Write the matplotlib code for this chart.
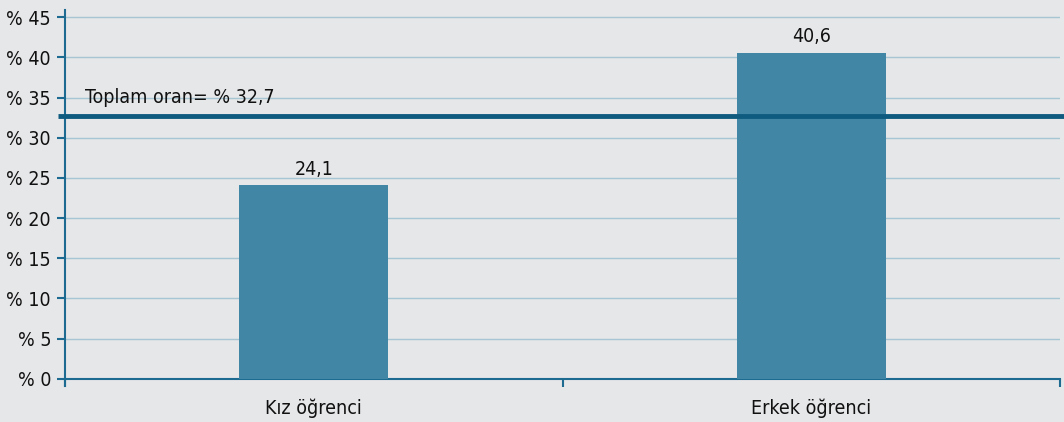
import matplotlib.pyplot as plt
import matplotlib.transforms as mtransforms

categories = ["Kız öğrenci", "Erkek öğrenci"]
values = [24.1, 40.6]
total_rate = 32.7
y_ticks = [0, 5, 10, 15, 20, 25, 30, 35, 40, 45]

bg = "#e6e7e9"
bar_color = "#4186a4"
line_color = "#0f5b80"
axis_color = "#1d6b91"
grid_color = "#a8c5d3"
txt = "#111111"

plt.rcParams['font.family'] = ['DejaVu Sans']
plt.rcParams['font.stretch'] = 'condensed'
fs = 14

fig = plt.figure(figsize=(10.64, 4.22), dpi=100, facecolor=bg)
ax = fig.add_axes([65 / 1064, 36 / 422, 995 / 1064, 376 / 422])
ax.set_facecolor(bg)

x = list(range(len(categories)))
ax.bar(x, values, width=0.30, color=bar_color, zorder=3)
for xi, v in zip(x, values):
    ax.text(xi, v + 0.8, f"{v:.1f}".replace(".", ","), ha="center", va="bottom",
            fontsize=fs, color=txt, zorder=4)

ax.set_xlim(-0.5, 1.5)
ax.set_ylim(-0.9, 45.9)

# grid lines
for t in y_ticks[1:]:
    ax.axhline(t, color=grid_color, lw=1, zorder=1)

# total rate line, sticking out a little to the left
trans = mtransforms.blended_transform_factory(ax.transAxes, ax.transData)
ax.plot([-0.007, 1.01], [total_rate, total_rate], color=line_color, lw=3.5,
        transform=trans, clip_on=False, zorder=5, solid_capstyle="butt")
ax.text(0.02, total_rate + 1.1, "Toplam oran= % " + f"{total_rate:.1f}".replace(".", ","),
        transform=trans, fontsize=fs, color=txt, va="bottom", ha="left", zorder=6)

ax.set_yticks(y_ticks)
ax.set_yticklabels([f"% {t}" for t in y_ticks], fontsize=fs, color=txt)
ax.set_xticks([-0.5, 0.5, 1.5])
ax.set_xticklabels([])
for xi, c in zip(x, categories):
    ax.text(xi, -3.7, c, ha="center", va="center", fontsize=fs, color=txt)
ax.tick_params(axis="x", length=6, width=1.5, color=axis_color, direction="out")
ax.tick_params(axis="y", length=6, width=1.5, color=axis_color, direction="out", pad=4)

for s in ["top", "right"]:
    ax.spines[s].set_visible(False)
ax.spines["left"].set_color(axis_color)
ax.spines["left"].set_linewidth(1.5)
ax.spines["bottom"].set_color(axis_color)
ax.spines["bottom"].set_linewidth(1.5)
ax.spines["bottom"].set_position(("data", 0))

fig.savefig("out.png", dpi=100, facecolor=bg)
